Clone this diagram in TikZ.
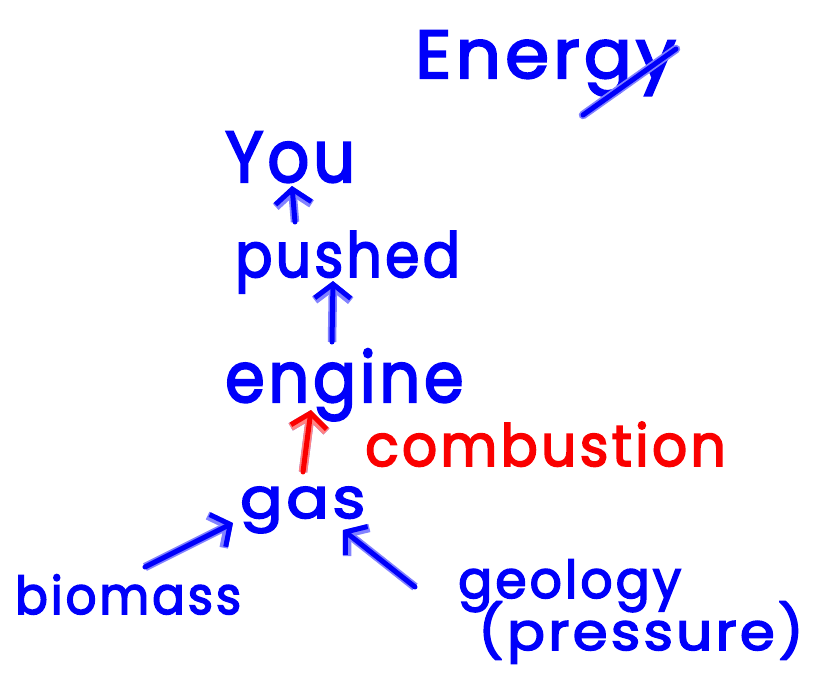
\documentclass[tikz,border=0pt]{standalone}
\usepackage{fontspec}
\usepackage{graphicx}
\setmainfont{Poppins}[LetterSpace=6, FakeBold=3]
\usetikzlibrary{arrows.meta,calc}
\definecolor{pen}{RGB}{0,0,250}
\definecolor{penhalo}{RGB}{130,130,255}
\definecolor{redpen}{RGB}{250,0,0}
\definecolor{redhalo}{RGB}{255,130,130}
\tikzset{
  hand/.style={inner sep=0pt, anchor=base west, text=pen},
  sz/.style={font=\fontsize{#1}{#1}\selectfont},
  tip/.style={-{Straight Barb[length=14pt,width=36pt,line width=#1]}},
  arr/.style={draw=pen, line width=5pt, line cap=round, line join=round, tip=5pt,
    preaction={draw=penhalo, line width=8.5pt, tip=8.5pt}},
  redarr/.style={arr, draw=redpen, preaction={draw=redhalo, line width=8.5pt, tip=8.5pt}},
  stroke/.style={draw=pen, line width=5pt, line cap=round, preaction={draw=penhalo, line width=8.5pt, line cap=round}},
}
\begin{document}
\begin{tikzpicture}[x=1pt,y=-1pt]
\useasboundingbox (0,0) rectangle (814,677);
\node[hand, sz=68] (energy) at (415,78) {\scalebox{1.04}[1]{Energy}};
\draw[stroke] ([shift={(168,37)}]energy.base west) -- ([shift={(261,-29)}]energy.base west);
\node[hand, sz=72] (you) at (225,182) {\scalebox{0.91}[1]{You}};
\node[hand, sz=62] (pushed) at (235,277) {\scalebox{0.89}[1]{pushed}};
\node[hand, sz=70] (engine) at (225,402) {\scalebox{0.91}[1]{engine}};
\node[hand, sz=58, text=redpen] (comb) at (365,466) {\scalebox{0.95}[1]{combustion}};
\node[hand, sz=56] (gas) at (240,518) {\scalebox{1.12}[1]{gas}};
\node[hand, sz=52] (bio) at (15,614) {\scalebox{0.93}[1]{biomass}};
\node[hand, sz=52] (geo) at (458,598) {\scalebox{0.97}[1]{geology}};
\node[hand, sz=52] (pres) at (478,650) {\scalebox{1.08}[1]{(pressure)}};
\draw[arr] ([shift={(60,-55)}]pushed.base west) -- ([shift={(67,4)}]you.base west);
\draw[arr] ([shift={(107,-60)}]engine.base west) -- ([shift={(98,4)}]pushed.base west);
\draw[redarr] ([shift={(63,-46)}]gas.base west) -- ([shift={(86,8)}]engine.base west);
\draw[arr] ([shift={(130,-47)}]bio.base west) -- ([shift={(-7,5)}]gas.base west);
\draw[arr] ([shift={(-43,-11)}]geo.base west) -- ([shift={(103,12)}]gas.base west);
\end{tikzpicture}
\end{document}
